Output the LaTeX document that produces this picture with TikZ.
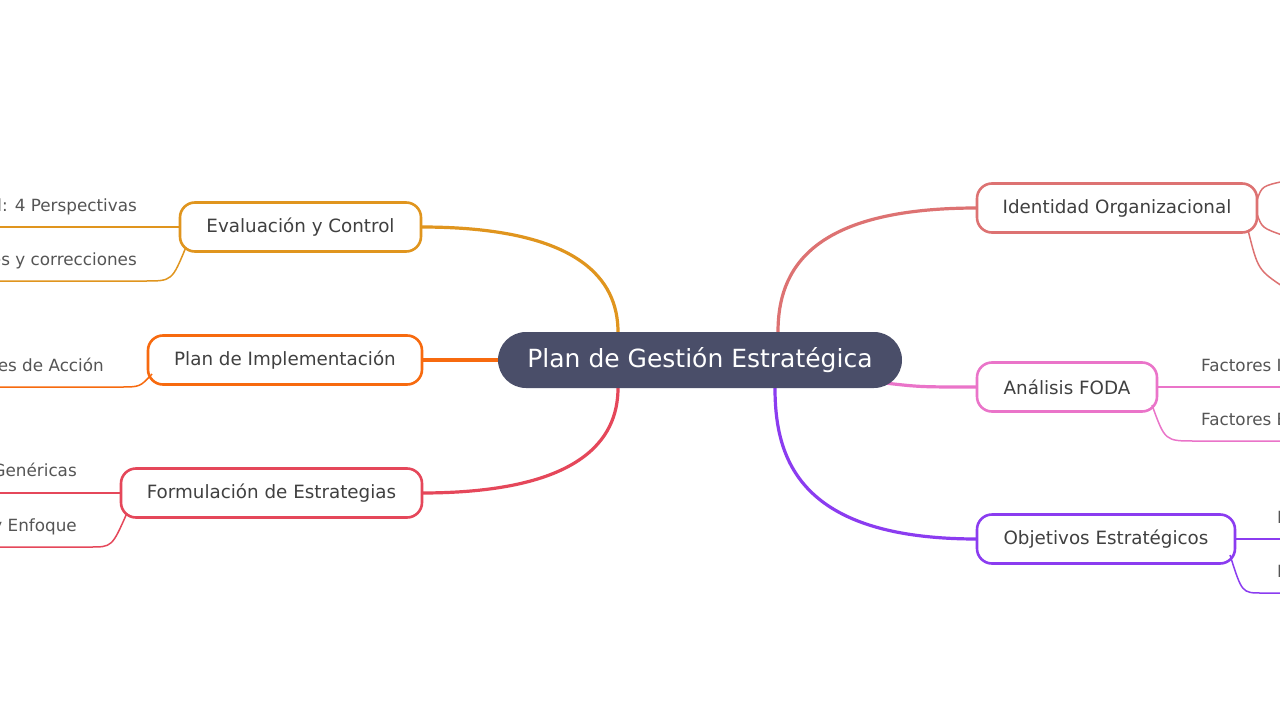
\documentclass[tikz,border=0pt]{standalone}
\usepackage{fontspec}
\setmainfont{DejaVu Sans}
\definecolor{hub}{HTML}{4A4E69}
\definecolor{cEval}{HTML}{E0951E}
\definecolor{cPlan}{HTML}{F76A0F}
\definecolor{cForm}{HTML}{E5475A}
\definecolor{cIden}{HTML}{DD7272}
\definecolor{cFoda}{HTML}{EA74C9}
\definecolor{cObj}{HTML}{8B3CF0}
\definecolor{leaftext}{HTML}{555555}
\begin{document}
\begin{tikzpicture}
[x=1pt, y=-1pt,
centerbox/.style={rounded corners=28pt, fill=hub, text=white, minimum width=404pt, minimum height=56pt, font=\fontsize{25}{29}\selectfont},
topicbox/.style={rounded corners=15pt, draw, line width=2.6pt, fill=white, text=black!75, minimum height=49pt, font=\fontsize{18.3}{21}\selectfont},
mainline/.style={line width=3.2pt},
leafline/.style={line width=1.5pt},
leaf/.style={text=leaftext, font=\fontsize{16.8}{20}\selectfont, inner sep=0pt}
]
\useasboundingbox (0,0) rectangle (1280,720);
\fill[white] (0,0) rectangle (1280,720);

%central
\coordinate (jl1) at (618,332);
\coordinate (jl3) at (618,388);
\coordinate (jr1) at (778,332);
\coordinate (jr2) at (885,383);
\coordinate (jr3) at (775,388);

%main connectors
\draw[mainline, cEval] (421,227) .. controls (580,227) and (618,280) .. (jl1);
\draw[mainline, cForm] (421,493) .. controls (580,493) and (618,440) .. (jl3);
\draw[mainline, cIden] (977,208) .. controls (810,208) and (778,270) .. (jr1);
\draw[mainline, cObj] (977,539) .. controls (800,539) and (775,460) .. (jr3);
\draw[mainline, cFoda] (jr2) .. controls (920,387) .. (977,387);
\draw[mainline, cPlan] (422,360) -- (500,360);

\node[centerbox] (hub) at (700,360) {Plan de Gestión Estratégica};

%left topics
\node[topicbox, draw=cEval, minimum width=241pt] (eval) at (300.5,227) {Evaluación y Control};
\node[topicbox, draw=cPlan, minimum width=274pt] (plan) at (285,360) {Plan de Implementación};
\node[topicbox, draw=cForm, minimum width=301pt] (form) at (271.5,493) {Formulación de Estrategias};

%right topics
\node[topicbox, draw=cIden, minimum width=280pt] (iden) at (1117,208) {Identidad Organizacional};
\node[topicbox, draw=cFoda, minimum width=180pt] (foda) at (1067,387) {Análisis FODA};
\node[topicbox, draw=cObj, minimum width=258pt] (obj) at (1106,539) {Objetivos Estratégicos};

%left leaves
\coordinate (e1) at (-10,227);
\coordinate (e2) at (-10,281);
\coordinate (p1) at (-10,387);
\coordinate (f1) at (-10,493);
\coordinate (f2) at (-10,547);
\draw[leafline, cEval] (eval.west) -- (e1);
\draw[leafline, cEval] (186,247) .. controls (172,281) .. (145,281) -- (e2);
\draw[leafline, cPlan] (152,374) .. controls (140,387) .. (120,387) -- (p1);
\draw[leafline, cForm] (form.west) -- (f1);
\draw[leafline, cForm] (127,513) .. controls (112,547) .. (90,547) -- (f2);
\node[leaf, anchor=base east] (t1) at (137,211) {Cuadro de Mando Integral: 4 Perspectivas};
\node[leaf, anchor=base east] (t2) at (137,265) {Ajustes y correcciones};
\node[leaf, anchor=base east] (t3) at (104,371) {Planes de Acción};
\node[leaf, anchor=base east] (t4) at (77,476) {Estrategias Genéricas};
\node[leaf, anchor=base east] (t5) at (77,531) {Diferenciación y Enfoque};

%right leaves
\coordinate (d1) at (1290,387);
\coordinate (d2) at (1290,441);
\coordinate (o1) at (1290,539);
\coordinate (o2) at (1290,593);
\draw[leafline, cIden] (1257,200) .. controls (1262,186) .. (1285,181);
\draw[leafline, cIden] (1257,214) .. controls (1262,228) .. (1285,236);
\draw[leafline, cIden] (1248,230) .. controls (1258,270) .. (1285,288);
\draw[leafline, cFoda] (foda.east) -- (d1);
\draw[leafline, cFoda] (1152,405) .. controls (1165,441) .. (1195,441) -- (d2);
\draw[leafline, cObj] (obj.east) -- (o1);
\draw[leafline, cObj] (1230,555) .. controls (1242,593) .. (1262,593) -- (o2);
\node[leaf, anchor=base west] (t6) at (1201,371) {Factores Internos};
\node[leaf, anchor=base west] (t7) at (1201,425) {Factores Externos};
\node[leaf, anchor=base west] (t8) at (1277,523) {Largo plazo};
\node[leaf, anchor=base west] (t9) at (1277,577) {Metas};
\end{tikzpicture}
\end{document}
